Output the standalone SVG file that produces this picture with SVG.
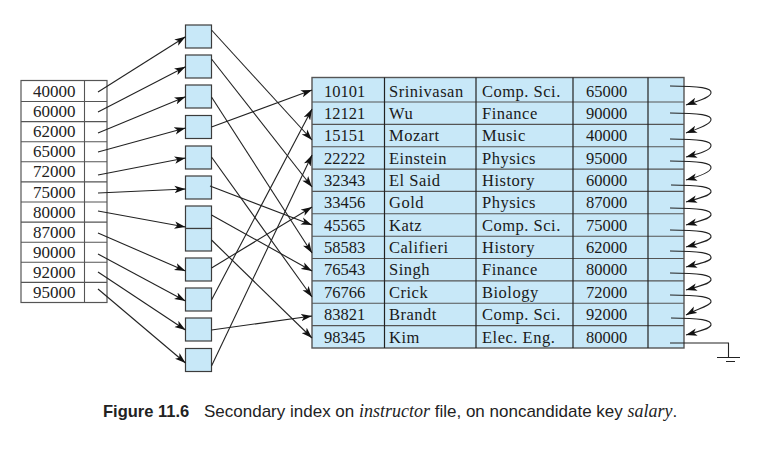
<svg xmlns="http://www.w3.org/2000/svg" width="766" height="452" viewBox="0 0 766 452">
<style>
.bg{fill:#fff}
.idx{fill:#fff;stroke:#555;stroke-width:1.2}
.box{fill:#c8e8f8;stroke:#3c3c3c;stroke-width:1.2}
.tbl{fill:#c8e8f8;stroke:#555;stroke-width:1.4}
.hl{stroke:#555;stroke-width:1.1}
.vl{stroke:#222;stroke-width:1.2}
.n{font-family:"Liberation Serif","Times New Roman",serif;font-size:16.5px;fill:#1a1a1a}
.w{font-family:"Liberation Serif","Times New Roman",serif;font-size:16.5px;fill:#1a1a1a;letter-spacing:0.5px}
.k{font-family:"Liberation Serif","Times New Roman",serif;font-size:17px;fill:#222}
.c{fill:none;stroke:#222;stroke-width:1.1}
.cap{font-family:"Liberation Sans",Arial,sans-serif;font-size:17px;fill:#222}
.it{font-family:"Liberation Serif","Times New Roman",serif;font-style:italic;font-size:18px}
</style>
<defs>
<marker id="ah" markerUnits="userSpaceOnUse" markerWidth="12" markerHeight="8" refX="11" refY="4" orient="auto">
<path d="M0,0.3 L11,4 L0,7.7 L2.8,4 z" fill="#111"/>
</marker>
</defs>
<rect class="bg" x="0" y="0" width="766" height="452"/>

<g id="index">
<rect class="idx" x="21" y="80.5" width="86" height="222"/>
<line class="hl" x1="84.5" y1="80.5" x2="84.5" y2="302.5"/>
<g class="hl">
<line x1="21" y1="101.5" x2="107" y2="101.5"/>
<line x1="21" y1="121.6" x2="107" y2="121.6"/>
<line x1="21" y1="141.7" x2="107" y2="141.7"/>
<line x1="21" y1="161.8" x2="107" y2="161.8"/>
<line x1="21" y1="181.9" x2="107" y2="181.9"/>
<line x1="21" y1="202" x2="107" y2="202"/>
<line x1="21" y1="222.1" x2="107" y2="222.1"/>
<line x1="21" y1="242.2" x2="107" y2="242.2"/>
<line x1="21" y1="262.3" x2="107" y2="262.3"/>
<line x1="21" y1="282.4" x2="107" y2="282.4"/>
</g>
<g id="idx-40000"><text class="k" x="33" y="97">40000</text></g>
<g id="idx-60000"><text class="k" x="33" y="117.1">60000</text></g>
<g id="idx-62000"><text class="k" x="33" y="137.2">62000</text></g>
<g id="idx-65000"><text class="k" x="33" y="157.3">65000</text></g>
<g id="idx-72000"><text class="k" x="33" y="177.4">72000</text></g>
<g id="idx-75000"><text class="k" x="33" y="197.5">75000</text></g>
<g id="idx-80000"><text class="k" x="33" y="217.6">80000</text></g>
<g id="idx-87000"><text class="k" x="33" y="237.7">87000</text></g>
<g id="idx-90000"><text class="k" x="33" y="257.8">90000</text></g>
<g id="idx-92000"><text class="k" x="33" y="277.9">92000</text></g>
<g id="idx-95000"><text class="k" x="33" y="298">95000</text></g>
</g>

<g id="buckets">
<g id="bucket-40000"><rect class="box" x="185.5" y="25" width="26" height="23"/></g>
<g id="bucket-60000"><rect class="box" x="185.5" y="55" width="26" height="23"/></g>
<g id="bucket-62000"><rect class="box" x="185.5" y="85" width="26" height="23"/></g>
<g id="bucket-65000"><rect class="box" x="185.5" y="115.5" width="26" height="23"/></g>
<g id="bucket-72000"><rect class="box" x="185.5" y="146" width="26" height="23"/></g>
<g id="bucket-75000"><rect class="box" x="185.5" y="176" width="26" height="23"/></g>
<g id="bucket-80000"><rect class="box" x="185.5" y="206" width="26" height="22.5"/><rect class="box" x="185.5" y="228.5" width="26" height="22.5"/></g>
<g id="bucket-87000"><rect class="box" x="185.5" y="258" width="26" height="23"/></g>
<g id="bucket-90000"><rect class="box" x="185.5" y="288" width="26" height="23"/></g>
<g id="bucket-92000"><rect class="box" x="185.5" y="318" width="26" height="23"/></g>
<g id="bucket-95000"><rect class="box" x="185.5" y="348.5" width="26" height="23"/></g>
</g>

<g id="instructor-file">
<rect class="tbl" x="312" y="77.5" width="372" height="270.5"/>
<g class="hl">
<line x1="312" y1="102" x2="684" y2="102"/>
<line x1="312" y1="124.4" x2="684" y2="124.4"/>
<line x1="312" y1="146.7" x2="684" y2="146.7"/>
<line x1="312" y1="169.1" x2="684" y2="169.1"/>
<line x1="312" y1="191.4" x2="684" y2="191.4"/>
<line x1="312" y1="213.8" x2="684" y2="213.8"/>
<line x1="312" y1="236.2" x2="684" y2="236.2"/>
<line x1="312" y1="258.5" x2="684" y2="258.5"/>
<line x1="312" y1="280.9" x2="684" y2="280.9"/>
<line x1="312" y1="303.2" x2="684" y2="303.2"/>
<line x1="312" y1="325.6" x2="684" y2="325.6"/>
</g>
<g class="vl">
<line x1="384.5" y1="77.5" x2="384.5" y2="348"/>
<line x1="476" y1="77.5" x2="476" y2="348"/>
<line x1="573" y1="77.5" x2="573" y2="348"/>
<line x1="648" y1="77.5" x2="648" y2="348"/>
</g>
<g id="rec-10101"><text class="n" x="324" y="96.5">10101</text><text class="w" x="389" y="96.5">Srinivasan</text><text class="w" x="482" y="96.5">Comp. Sci.</text><text class="n" x="586" y="96.5">65000</text></g>
<g id="rec-12121"><text class="n" x="324" y="118.9">12121</text><text class="w" x="389" y="118.9">Wu</text><text class="w" x="482" y="118.9">Finance</text><text class="n" x="586" y="118.9">90000</text></g>
<g id="rec-15151"><text class="n" x="324" y="141.2">15151</text><text class="w" x="389" y="141.2">Mozart</text><text class="w" x="482" y="141.2">Music</text><text class="n" x="586" y="141.2">40000</text></g>
<g id="rec-22222"><text class="n" x="324" y="163.6">22222</text><text class="w" x="389" y="163.6">Einstein</text><text class="w" x="482" y="163.6">Physics</text><text class="n" x="586" y="163.6">95000</text></g>
<g id="rec-32343"><text class="n" x="324" y="185.9">32343</text><text class="w" x="389" y="185.9">El Said</text><text class="w" x="482" y="185.9">History</text><text class="n" x="586" y="185.9">60000</text></g>
<g id="rec-33456"><text class="n" x="324" y="208.3">33456</text><text class="w" x="389" y="208.3">Gold</text><text class="w" x="482" y="208.3">Physics</text><text class="n" x="586" y="208.3">87000</text></g>
<g id="rec-45565"><text class="n" x="324" y="230.7">45565</text><text class="w" x="389" y="230.7">Katz</text><text class="w" x="482" y="230.7">Comp. Sci.</text><text class="n" x="586" y="230.7">75000</text></g>
<g id="rec-58583"><text class="n" x="324" y="253">58583</text><text class="w" x="389" y="253">Califieri</text><text class="w" x="482" y="253">History</text><text class="n" x="586" y="253">62000</text></g>
<g id="rec-76543"><text class="n" x="324" y="275.4">76543</text><text class="w" x="389" y="275.4">Singh</text><text class="w" x="482" y="275.4">Finance</text><text class="n" x="586" y="275.4">80000</text></g>
<g id="rec-76766"><text class="n" x="324" y="297.7">76766</text><text class="w" x="389" y="297.7">Crick</text><text class="w" x="482" y="297.7">Biology</text><text class="n" x="586" y="297.7">72000</text></g>
<g id="rec-83821"><text class="n" x="324" y="320.1">83821</text><text class="w" x="389" y="320.1">Brandt</text><text class="w" x="482" y="320.1">Comp. Sci.</text><text class="n" x="586" y="320.1">92000</text></g>
<g id="rec-98345"><text class="n" x="324" y="342.5">98345</text><text class="w" x="389" y="342.5">Kim</text><text class="w" x="482" y="342.5">Elec. Eng.</text><text class="n" x="586" y="342.5">80000</text></g>
</g>

<g id="connectors" class="c">
<g id="index-to-buckets">
<line x1="98" y1="92" x2="185.5" y2="36.7" marker-end="url(#ah)"/>
<line x1="98" y1="112" x2="185.5" y2="66.7" marker-end="url(#ah)"/>
<line x1="98" y1="133" x2="185.5" y2="96.7" marker-end="url(#ah)"/>
<line x1="98" y1="152" x2="185.5" y2="128" marker-end="url(#ah)"/>
<line x1="98" y1="175" x2="185.5" y2="158" marker-end="url(#ah)"/>
<line x1="98" y1="193" x2="185.5" y2="189" marker-end="url(#ah)"/>
<line x1="98" y1="211" x2="185.5" y2="227" marker-end="url(#ah)"/>
<line x1="98" y1="233" x2="185.5" y2="271" marker-end="url(#ah)"/>
<line x1="98" y1="254" x2="185.5" y2="301" marker-end="url(#ah)"/>
<line x1="98" y1="272" x2="185.5" y2="330" marker-end="url(#ah)"/>
<line x1="98" y1="289" x2="185.5" y2="363" marker-end="url(#ah)"/>
</g>
<g id="buckets-to-records">
<line x1="211.5" y1="30" x2="312" y2="140" marker-end="url(#ah)"/>
<line x1="211.5" y1="59" x2="312" y2="187" marker-end="url(#ah)"/>
<line x1="211.5" y1="97" x2="312" y2="253" marker-end="url(#ah)"/>
<line x1="211.5" y1="127" x2="312" y2="90" marker-end="url(#ah)"/>
<line x1="211.5" y1="157" x2="312" y2="297" marker-end="url(#ah)"/>
<line x1="210" y1="186" x2="312" y2="225" marker-end="url(#ah)"/>
<line x1="211.5" y1="215" x2="312" y2="271" marker-end="url(#ah)"/>
<line x1="211.5" y1="240" x2="312" y2="338" marker-end="url(#ah)"/>
<line x1="211.5" y1="268" x2="312" y2="207" marker-end="url(#ah)"/>
<line x1="211.5" y1="300" x2="312" y2="109" marker-end="url(#ah)"/>
<line x1="211.5" y1="330" x2="312" y2="316" marker-end="url(#ah)"/>
<line x1="211.5" y1="366" x2="312" y2="155" marker-end="url(#ah)"/>
</g>
<g id="record-chain">
<path d="M670 86 C700 86 712 88 711 93 C710 98 697 101 686 105" marker-end="url(#ah)"/>
<path d="M670 113 C700 113 712 115 711 120 C710 125 697 129 686 133" marker-end="url(#ah)"/>
<path d="M670 139 C700 139 712 141 711 146 C710 151 697 154 686 157" marker-end="url(#ah)"/>
<path d="M670 161 C700 161 712 163 711 168 C710 173 697 177 686 180" marker-end="url(#ah)"/>
<path d="M671 185 C700 185 712 187 711 192 C710 196 697 199 686 202" marker-end="url(#ah)"/>
<path d="M670 208 C700 208 712 210 711 215 C710 219 697 222 686 225" marker-end="url(#ah)"/>
<path d="M670 230 C700 230 712 232 711 237 C710 241 697 244 686 247" marker-end="url(#ah)"/>
<path d="M670 251 C700 251 712 253 711 258 C710 262 697 264 686 267" marker-end="url(#ah)"/>
<path d="M670 273 C700 273 712 275 711 280 C710 284 697 287 686 290" marker-end="url(#ah)"/>
<path d="M670 295 C700 295 712 297 711 302 C710 306 697 309 686 315" marker-end="url(#ah)"/>
<path d="M671 318 C700 318 712 320 711 325 C710 329 697 332 686 335" marker-end="url(#ah)"/>
<path d="M670 343 L728.5 343 L728.5 357.5"/>
<path d="M717 357.5 H740 M726 361.5 H735"/>
</g>
</g>

<text class="cap" x="103" y="417"><tspan font-weight="bold" font-size="16.5px">Figure 11.6</tspan><tspan x="204">Secondary index on </tspan><tspan class="it">instructor</tspan><tspan> file, on noncandidate key </tspan><tspan class="it">salary</tspan><tspan>.</tspan></text>
</svg>
